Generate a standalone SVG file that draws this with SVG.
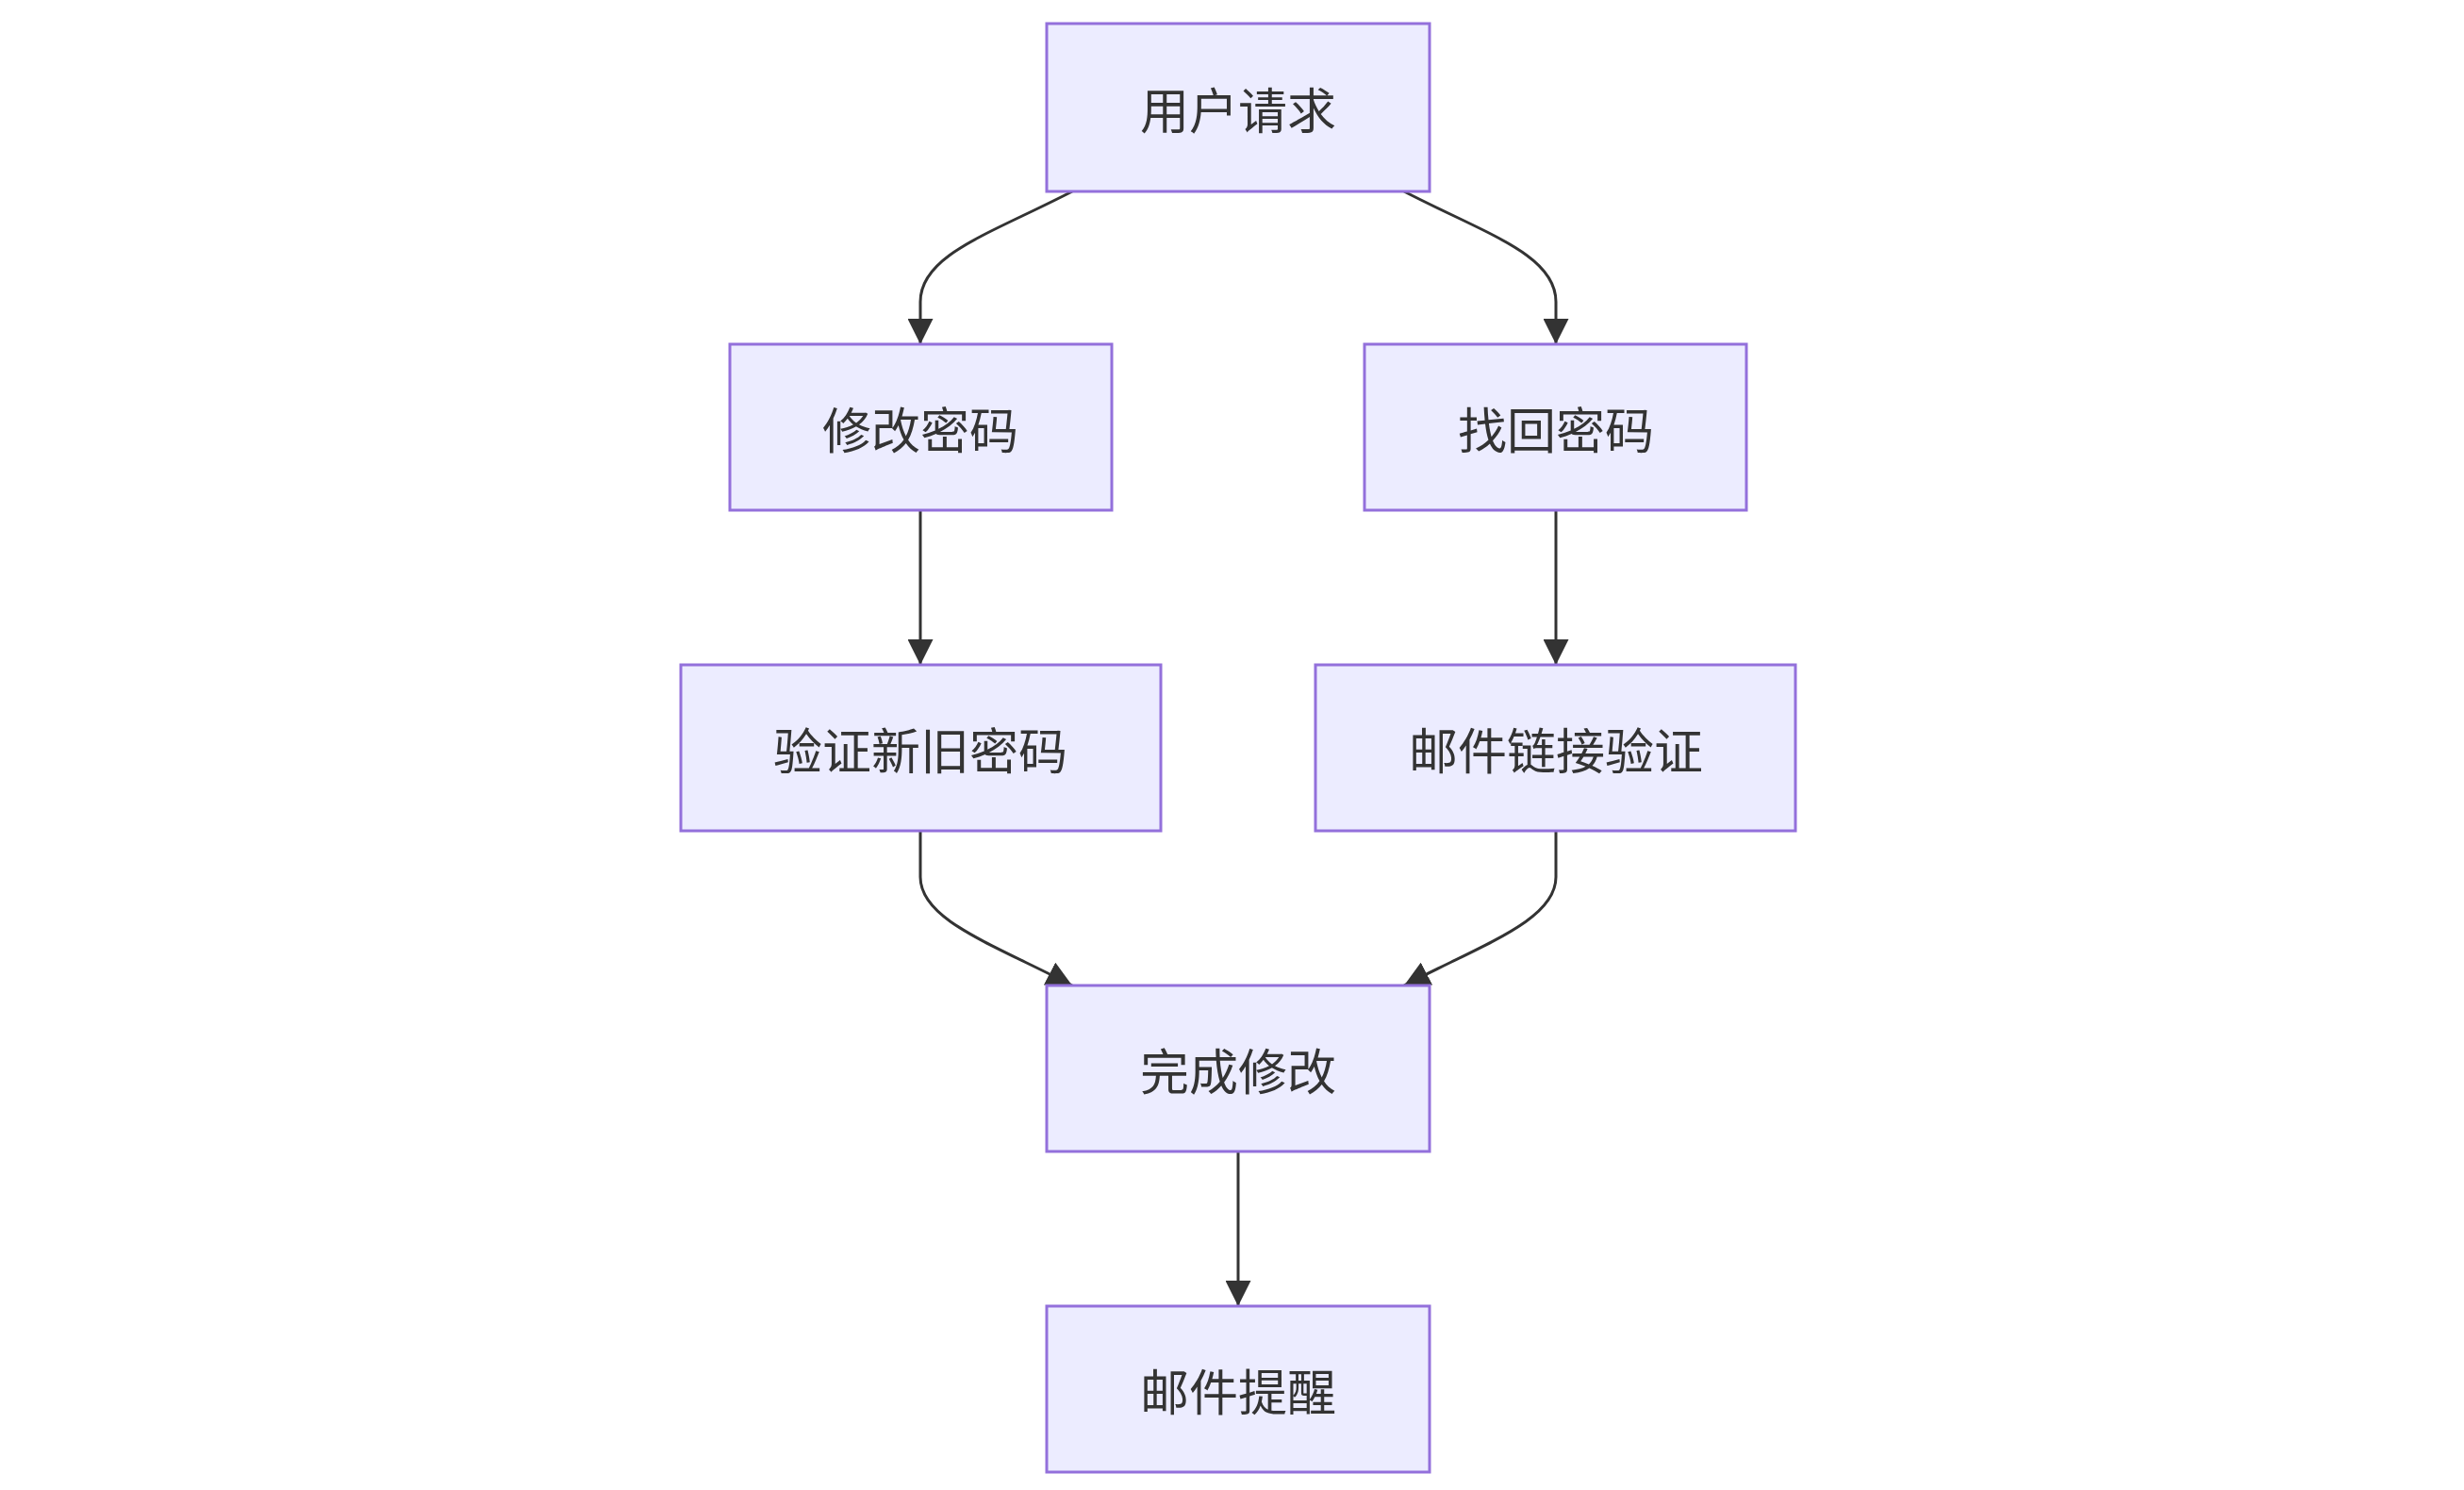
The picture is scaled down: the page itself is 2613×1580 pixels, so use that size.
<svg xmlns="http://www.w3.org/2000/svg" width="2613" height="1580" viewBox="0 0 2613 1580">
<style>
.n rect{fill:#ECECFF;stroke:#9370DB;stroke-width:3}
.n text{font-family:"Noto Sans CJK SC","Liberation Sans",sans-serif;font-size:52px;fill:#333;text-anchor:middle;dominant-baseline:central}
.e path{fill:none;stroke:#333;stroke-width:3;marker-end:url(#a)}
</style>
<defs><marker id="a" viewBox="0 0 10 10" refX="10" refY="5" markerWidth="9" markerHeight="9" markerUnits="strokeWidth" orient="auto"><path d="M0,0L10,5L0,10z" fill="#333"/></marker></defs>
<rect width="2613" height="1580" fill="#fff"/>
<g class="e">
<path d="M1137,203 C1050,248 976,270 976,320 L976,365"/>
<path d="M1489,203 C1576,248 1650,270 1650,320 L1650,365"/>
<path d="M976,541 L976,705"/>
<path d="M1650,541 L1650,705"/>
<path d="M976,881 L976,930 C976,975 1050,1000 1137,1045"/>
<path d="M1650,881 L1650,930 C1650,975 1576,1000 1489,1045"/>
<path d="M1313,1221 L1313,1385"/>
</g>
<g id="n1" class="n"><rect x="1110" y="25" width="406" height="178"/><text x="1313" y="114">用户请求</text></g>
<g id="n2" class="n"><rect x="774" y="365" width="405" height="176"/><text x="976" y="453">修改密码</text></g>
<g id="n3" class="n"><rect x="1447" y="365" width="405" height="176"/><text x="1650" y="453">找回密码</text></g>
<g id="n4" class="n"><rect x="722" y="705" width="509" height="176"/><text x="976" y="793">验证新旧密码</text></g>
<g id="n5" class="n"><rect x="1395" y="705" width="509" height="176"/><text x="1650" y="793">邮件链接验证</text></g>
<g id="n6" class="n"><rect x="1110" y="1045" width="406" height="176"/><text x="1313" y="1133">完成修改</text></g>
<g id="n7" class="n"><rect x="1110" y="1385" width="406" height="176"/><text x="1313" y="1473">邮件提醒</text></g>
</svg>
